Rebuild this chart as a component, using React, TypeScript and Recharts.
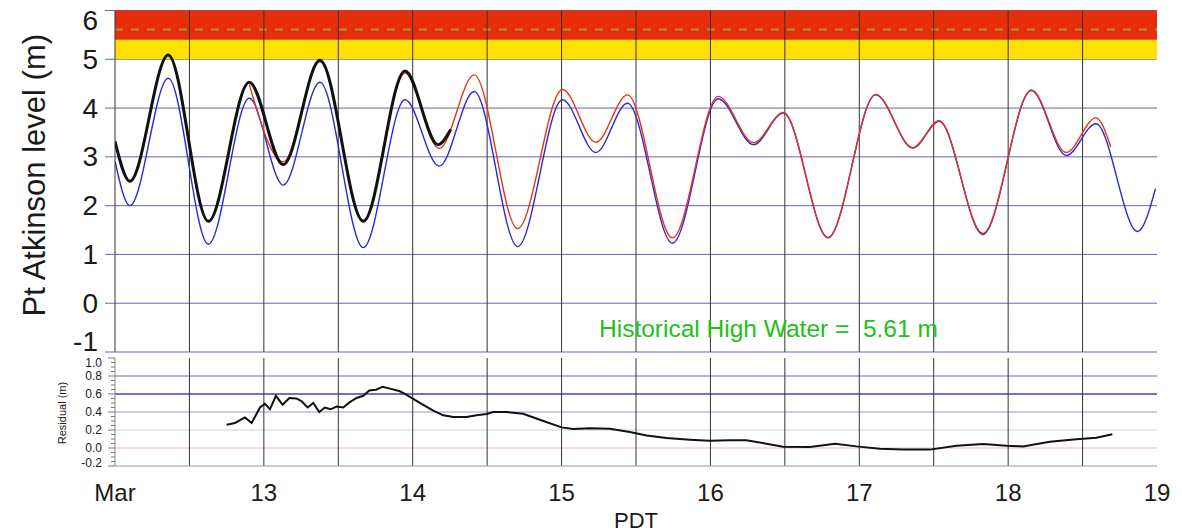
import React from 'react';
import { LineChart, Line, XAxis, YAxis, CartesianGrid, ReferenceArea, ReferenceLine } from 'recharts';

// ---- data (time in days of March, level in metres) ----
const predTimes = [12.0, 12.1, 12.358, 12.627, 12.902, 13.13, 13.377, 13.668, 13.948, 14.178, 14.413, 14.705, 15.006, 15.23, 15.443, 15.745, 16.052, 16.29, 16.49, 16.79, 17.11, 17.36, 17.536, 17.83, 18.156, 18.39, 18.59, 18.87, 18.99];
const predLevels = [2.91, 2.0, 4.61, 1.21, 4.2, 2.42, 4.53, 1.14, 4.17, 2.81, 4.34, 1.16, 4.17, 3.09, 4.1, 1.23, 4.19, 3.25, 3.9, 1.34, 4.27, 3.18, 3.73, 1.41, 4.36, 3.03, 3.68, 1.47, 2.35];

const obsTimes = [12.0, 12.1, 12.358, 12.627, 12.902, 13.13, 13.377, 13.668, 13.948, 14.17, 14.255];
const obsLevels = [3.32, 2.5, 5.09, 1.68, 4.53, 2.84, 4.98, 1.68, 4.76, 3.25, 3.56];

const fcstTimes = [12.902, 13.13, 13.377, 13.668, 13.948, 14.178, 14.413, 14.705, 15.006, 15.23, 15.443, 15.745, 16.052, 16.29, 16.49, 16.79, 17.11, 17.36, 17.536, 17.83, 18.156, 18.39, 18.59, 18.69];
const fcstLevels = [4.48, 2.9, 4.95, 1.7, 4.72, 3.17, 4.68, 1.53, 4.38, 3.3, 4.27, 1.34, 4.24, 3.29, 3.91, 1.35, 4.28, 3.19, 3.74, 1.43, 4.37, 3.09, 3.8, 3.2];

const residTimes = [12.75, 12.806, 12.873, 12.918, 12.974, 13.007, 13.041, 13.081, 13.126, 13.171, 13.22, 13.254, 13.294, 13.332, 13.372, 13.41, 13.449, 13.489, 13.533, 13.578, 13.623, 13.668, 13.708, 13.753, 13.798, 13.847, 13.914, 13.959, 14.003, 14.071, 14.138, 14.205, 14.272, 14.362, 14.429, 14.496, 14.541, 14.631, 14.742, 14.854, 15.0, 15.078, 15.19, 15.324, 15.459, 15.571, 15.705, 15.862, 15.996, 16.13, 16.242, 16.377, 16.488, 16.668, 16.836, 16.981, 17.138, 17.294, 17.473, 17.653, 17.831, 17.989, 18.1, 18.279, 18.459, 18.593, 18.7];
const residValues = [0.259, 0.278, 0.34, 0.278, 0.45, 0.49, 0.43, 0.58, 0.48, 0.556, 0.55, 0.52, 0.45, 0.5, 0.4, 0.45, 0.43, 0.46, 0.45, 0.51, 0.556, 0.58, 0.64, 0.647, 0.68, 0.66, 0.63, 0.59, 0.546, 0.48, 0.415, 0.363, 0.344, 0.344, 0.363, 0.378, 0.4, 0.4, 0.38, 0.314, 0.229, 0.21, 0.22, 0.215, 0.178, 0.138, 0.11, 0.093, 0.081, 0.085, 0.085, 0.048, 0.015, 0.011, 0.048, 0.018, -0.007, -0.018, -0.018, 0.026, 0.044, 0.026, 0.018, 0.07, 0.096, 0.115, 0.152];

const levelTicks = [-1, 0, 1, 2, 3, 4, 5, 6];
const residTicks = [-0.2, -0.15, -0.1, -0.05, 0, 0.05, 0.1, 0.15, 0.2, 0.25, 0.3, 0.35, 0.4, 0.45, 0.5, 0.55, 0.6, 0.65, 0.7, 0.75, 0.8, 0.85, 0.9, 0.95, 1.0];
const residGridLevels = [0.8, 0.6, 0.4, 0.2, 0.0];
const dayTicks = [12, 13, 14, 15, 16, 17, 18, 19];
const dayLabels = ['Mar', '13', '14', '15', '16', '17', '18', '19'];
const halfDayLines = [12.5, 13, 13.5, 14, 14.5, 15, 15.5, 16, 16.5, 17, 17.5, 18, 18.5];
const warningBand = [5.0, 5.4];
const dangerBand = [5.4, 6.0];
const historicalHigh = 5.61;
const historicalText = 'Historical High Water =  5.61 m';

const zip = (ts: number[], vs: number[]) => ts.map((t, i) => ({ t, v: vs[i] }));
const predData = zip(predTimes, predLevels);
const obsData = zip(obsTimes, obsLevels);
const fcstData = zip(fcstTimes, fcstLevels);
const residData = zip(residTimes, residValues);

const FONT = '"Liberation Sans", Arial, Helvetica, sans-serif';
const TXT = '#1a1a1a';

const residGridColors = ['#7a60d4', '#5638bd', '#9d90e4', '#d2cce6', '#f4b6b6'];

const LevelTick = (props: any) => {
  const { x, y, payload } = props;
  const v = payload.value as number;
  const top = levelTicks[levelTicks.length - 1];
  const bottom = levelTicks[0];
  const yy = v === top ? y + 9.5 : v === bottom ? y - 11 : y;
  return (
    <text x={x} y={yy} textAnchor="end" dominantBaseline="central" fontSize={28} fill={TXT} fontFamily={FONT}>
      {String(v)}
    </text>
  );
};

const ResidTick = (props: any) => {
  const { x, y, payload } = props;
  const v = payload.value as number;
  const major = Math.abs(v * 5 - Math.round(v * 5)) < 1e-6;
  const top = residTicks[residTicks.length - 1];
  const bottom = residTicks[0];
  const ty = Math.abs(v - top) < 1e-6 ? y + 5 : Math.abs(v - bottom) < 1e-6 ? y - 3 : y;
  return (
    <g>
      <line x1={x} x2={x - (major ? 7 : 4)} y1={y} y2={y} stroke="#777" strokeWidth={1} />
      {major && (
        <text x={x - 13} y={ty} textAnchor="end" dominantBaseline="central" fontSize={12} fill={TXT} fontFamily={FONT}>
          {v.toFixed(1)}
        </text>
      )}
    </g>
  );
};

export default function App() {
  return (
    <div style={{ position: 'absolute', left: 0, top: 0, width: 1182, height: 532, background: '#fff', fontFamily: FONT }}>
      <div style={{ position: 'absolute', left: 0, top: 0 }}>
        <LineChart width={1182} height={360} margin={{ top: 10.5, right: 25, bottom: 8, left: 0 }}>
          <CartesianGrid horizontal vertical={false} stroke="#6a62b4" strokeWidth={1} />
          <XAxis type="number" dataKey="t" domain={[12, 19]} hide allowDataOverflow />
          <YAxis
            type="number"
            domain={[-1, 6]}
            ticks={levelTicks}
            interval={0}
            width={115}
            tickSize={10}
            tickMargin={7}
            tickLine={{ stroke: '#6a62b4' }}
            axisLine={{ stroke: '#333' }}
            tick={LevelTick}
            label={{
              content: (p: any) => {
                const vb = p.viewBox || { x: 0, y: 10, width: 115, height: 342 };
                const cx = vb.x + 34;
                const cy = vb.y + vb.height / 2 - 6;
                return (
                  <text x={cx} y={cy} transform={`rotate(-90 ${cx} ${cy})`} textAnchor="middle" dominantBaseline="central" fontSize={31} fill={TXT} fontFamily={FONT}>
                    Pt Atkinson level (m)
                  </text>
                );
              },
            }}
          />
          <ReferenceArea y1={warningBand[0]} y2={warningBand[1]} fill="#ffe100" fillOpacity={1} stroke="none" />
          <ReferenceArea y1={dangerBand[0]} y2={dangerBand[1]} fill="#e62e0a" fillOpacity={1} stroke="none" />
          <ReferenceLine y={historicalHigh} stroke="#9a9a3a" strokeWidth={2} strokeDasharray="8 8" />
          {halfDayLines.map((d) => (
            <ReferenceLine key={d} x={d} stroke="#333" strokeWidth={1} />
          ))}
          <Line data={predData} dataKey="v" type="monotone" stroke="#2a2ad4" strokeWidth={1.4} dot={false} isAnimationActive={false} />
          <Line data={fcstData} dataKey="v" type="monotone" stroke="#e2341d" strokeWidth={1.4} dot={false} isAnimationActive={false} />
          <Line data={obsData} dataKey="v" type="monotone" stroke="#111" strokeWidth={3} dot={false} isAnimationActive={false} />
        </LineChart>
      </div>
      <div style={{ position: 'absolute', left: 599, top: 317, fontSize: 24.5, lineHeight: '24.5px', color: '#22c022', whiteSpace: 'pre', fontFamily: FONT }}>
        {historicalText}
      </div>
      <div style={{ position: 'absolute', left: 0, top: 340 }}>
        <LineChart width={1182} height={192} margin={{ top: 18, right: 25, bottom: 0, left: 0 }}>
          <XAxis
            type="number"
            dataKey="t"
            domain={[12, 19]}
            ticks={dayTicks}
            interval={0}
            tickFormatter={(v: number) => dayLabels[dayTicks.indexOf(v)] ?? ''}
            height={66}
            tickLine={false}
            tickSize={8}
            tickMargin={10}
            axisLine={{ stroke: '#999' }}
            tick={{ fontSize: 24, fill: TXT, fontFamily: FONT }}
            label={{
              content: (p: any) => {
                const vb = p.viewBox || { x: 115, y: 466, width: 1042, height: 66 };
                return (
                  <text x={vb.x + vb.width / 2} y={vb.y + vb.height - 4} textAnchor="middle" fontSize={22} fill={TXT} fontFamily={FONT}>
                    PDT
                  </text>
                );
              },
            }}
          />
          <YAxis
            type="number"
            domain={[-0.2, 1]}
            ticks={residTicks}
            interval={0}
            width={115}
            tickSize={0}
            tickMargin={0}
            tickLine={false}
            axisLine={{ stroke: '#888' }}
            tick={ResidTick}
            label={{
              content: (p: any) => {
                const vb = p.viewBox || { x: 0, y: 358, width: 115, height: 108 };
                const cx = vb.x + 62;
                const cy = vb.y + vb.height / 2 + 1;
                return (
                  <text x={cx} y={cy} transform={`rotate(-90 ${cx} ${cy})`} textAnchor="middle" dominantBaseline="central" fontSize={11} fill={TXT} fontFamily={FONT}>
                    Residual (m)
                  </text>
                );
              },
            }}
          />
          {residGridLevels.map((lv, i) => (
            <ReferenceLine key={'h' + lv} y={lv} stroke={residGridColors[i]} strokeWidth={i === 1 ? 1.5 : 1} />
          ))}
          {halfDayLines.map((d) => (
            <ReferenceLine key={d} x={d} stroke="#333" strokeWidth={1} />
          ))}
          <Line data={residData} dataKey="v" type="linear" stroke="#111" strokeWidth={2} dot={false} isAnimationActive={false} />
        </LineChart>
      </div>
    </div>
  );
}
